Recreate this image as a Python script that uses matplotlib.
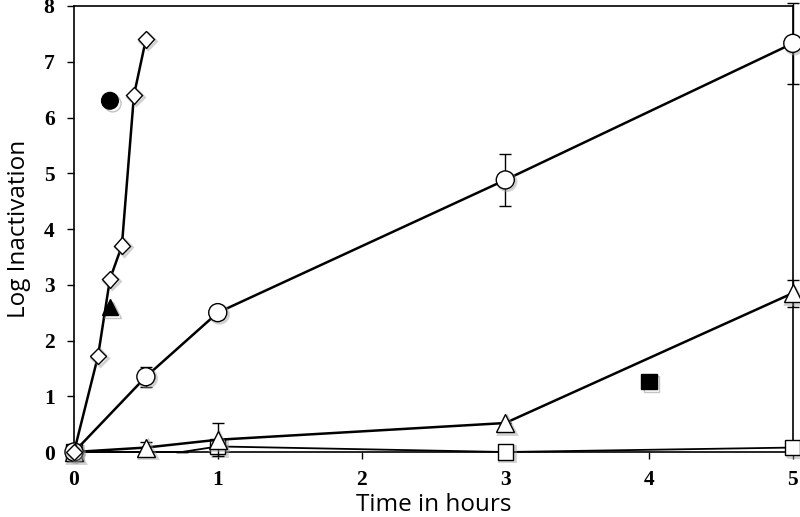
import matplotlib
matplotlib.use("Agg")
import matplotlib.pyplot as plt
import matplotlib.patheffects as pe

# Data
dia_x = [0, 0.167, 0.25, 0.333, 0.417, 0.5]
dia_y = [0, 1.72, 3.1, 3.7, 6.4, 7.4]

cir_x = [0, 0.5, 1, 3, 5]
cir_y = [0, 1.35, 2.5, 4.88, 7.33]
cir_err = [0, 0.18, 0.12, 0.46, 0.73]

tri_x = [0, 0.5, 1, 3, 5]
tri_y = [0, 0.08, 0.22, 0.52, 2.85]
tri_err = [0, 0.1, 0.3, 0.0, 0.24]

sq_x = [0, 0.75, 1, 3, 5]
sq_y = [0, 0, 0.1, 0.0, 0.08]
sq_err = [0, 0, 0.0, 0.05, 0.0]
sq_marks = [0, 2, 3, 4]

fill_circle = (0.25, 6.3)
fill_triangle = (0.25, 2.6)
fill_square = (4, 1.27)

xticks = [0, 1, 2, 3, 4, 5]
yticks = [0, 1, 2, 3, 4, 5, 6, 7, 8]

fig = plt.figure(figsize=(8, 5.17), dpi=100)
ax = fig.add_axes([0.0925, 0.1257, 0.8985, 0.8627])

shadow = [pe.SimpleLineShadow(offset=(1.2, -1.2), shadow_color='#999999', alpha=0.45, linewidth=2), pe.Normal()]


def series(x, y, err, marker, ms, lw, z, marks=None):
    if err is not None:
        ax.errorbar(x, y, yerr=err, fmt='none', ecolor='black', elinewidth=1,
                    capsize=4, capthick=1, clip_on=False, zorder=z)
    ax.plot(x, y, color='black', lw=lw, clip_on=False, zorder=z)
    mx = [x[i] for i in marks] if marks else x
    my = [y[i] for i in marks] if marks else y
    ax.plot(mx, my, ls='none', marker=marker, ms=ms, mfc='white', mec='black',
            mew=1, clip_on=False, zorder=z + 0.5, path_effects=shadow)


series(sq_x, sq_y, sq_err, 's', 11, 1.3, 3, sq_marks)
series(tri_x, tri_y, tri_err, '^', 13, 1.8, 4)
series(cir_x, cir_y, cir_err, 'o', 13, 1.8, 5)
series(dia_x, dia_y, None, 'D', 8.5, 1.8, 6)

shadow2 = [pe.SimpleLineShadow(offset=(2, -2), shadow_color='#888888', alpha=0.5), pe.Normal()]
ax.plot([fill_circle[0]], [fill_circle[1]], marker='o', ms=12, color='black',
        ls='none', zorder=7, path_effects=shadow2)
ax.plot([fill_triangle[0]], [fill_triangle[1]], marker='^', ms=12, color='black',
        ls='none', zorder=7, path_effects=shadow2)
ax.plot([fill_square[0]], [fill_square[1]], marker='s', ms=11, color='black',
        ls='none', zorder=7, path_effects=shadow2)

ax.set_xlim(0, 5)
ax.set_ylim(0, 8)
ax.set_xticks(xticks)
ax.set_yticks(yticks)
tick_font = dict(family='Liberation Serif', weight='bold', size=15.5)
ax.set_xticklabels([str(t) for t in xticks], fontdict=tick_font)
ax.set_yticklabels([str(t) for t in yticks], fontdict=tick_font)
ax.tick_params(axis='both', direction='out', length=5, width=1, color='black')
ax.tick_params(axis='y', pad=9)
ax.tick_params(axis='x', pad=8)
for s in ax.spines.values():
    s.set_linewidth(1.2)
    s.set_color('black')

ax.set_xlabel('Time in hours', family='Open Sans', size=17.5, labelpad=2)
ax.set_ylabel('Log Inactivation', family='Open Sans', size=17.5, labelpad=9)

fig.savefig('out.png', dpi=100)
